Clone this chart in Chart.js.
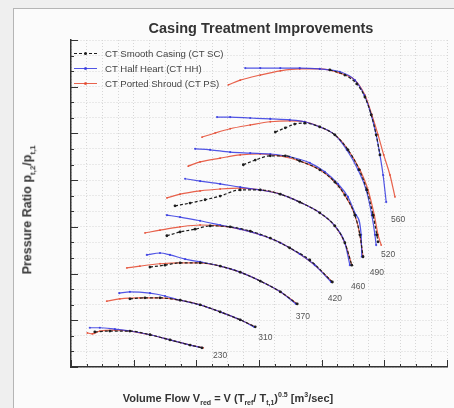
<!DOCTYPE html>
<html>
<head>
<meta charset="utf-8">
<script src="https://cdn.jsdelivr.net/npm/chart.js@4.4.1/dist/chart.umd.min.js"></script>
<style>
  body { margin: 0; background: #efefef; font-family: "Liberation Sans", Arial, sans-serif; }
  #wrap { position: relative; width: 454px; height: 408px; overflow: hidden; }
  #frame { position: absolute; left: 13px; top: 8px; width: 450px; height: 410px; border: 1px solid #b5b5b5; background: #fbfbfb; }
  #chart { position: absolute; left: 0; top: 0; }
  .txt { position: absolute; color: #333; font-weight: bold; text-align: center; white-space: nowrap; }
  .txt sub, .txt sup { font-size: 7px; }
  #title { left: 61px; width: 400px; top: 19px; font-size: 14.5px; line-height: 18px; }
  #xtitle { left: 28px; width: 400px; top: 387px; font-size: 11px; line-height: 16px; }
  #ytitle { left: -135px; width: 330px; top: 200px; font-size: 12.5px; line-height: 14px; transform: rotate(-90deg); }
  #ytitle sub { font-size: 8px; }
  #legend { position: absolute; left: 74px; top: 46px; font-size: 9.6px; color: #444; }
  #legend div { height: 15px; line-height: 15px; display: flex; align-items: center; }
  #legend .smp { position: relative; width: 23px; height: 0; margin-right: 8px; border-top: 1px solid; }
  #legend .smp i { position: absolute; left: 10px; top: -2px; width: 3px; height: 3px; border-radius: 50%; }
</style>
</head>
<body>
<div id="wrap">
  <div id="frame"></div>
  <canvas id="chart" width="454" height="408"></canvas>
  <div id="title" class="txt">Casing Treatment Improvements</div>
  <div id="ytitle" class="txt">Pressure Ratio p<sub>t,2</sub>/p<sub>t,1</sub></div>
  <div id="xtitle" class="txt">Volume Flow V<sub>red</sub> = V (T<sub>ref</sub>/ T<sub>t,1</sub>)<sup>0.5</sup> [m<sup>3</sup>/sec]</div>
  <div id="legend"></div>
</div>
<script>
// speed lines, low to high
const speedLabels = ["230", "310", "370", "420", "460", "490", "520", "560"];
const labelX = [2.38, 3.10, 3.70, 4.21, 4.58, 4.88, 5.06, 5.22];
const labelY = [0.24, 0.62, 1.07, 1.46, 1.73, 2.01, 2.40, 3.15];

// [flow, pressure ratio] per speed line (axis units, labels hidden in the original)
const smoothCasing = [
    [[0.38, 0.75], [0.62, 0.77], [0.94, 0.77], [1.26, 0.69], [1.58, 0.58], [1.90, 0.47], [2.09, 0.41]],
    [[0.94, 1.46], [1.18, 1.48], [1.42, 1.48], [1.74, 1.43], [2.06, 1.33], [2.38, 1.18], [2.70, 1.01], [2.94, 0.86]],
    [[1.26, 2.14], [1.50, 2.18], [1.74, 2.23], [2.06, 2.23], [2.38, 2.16], [2.70, 2.03], [3.02, 1.84], [3.34, 1.61], [3.61, 1.35]],
    [[1.53, 2.81], [1.74, 2.89], [1.98, 2.95], [2.22, 3.02], [2.54, 3.00], [2.86, 2.91], [3.18, 2.76], [3.49, 2.55], [3.81, 2.29], [4.17, 1.82]],
    [[1.66, 3.45], [1.90, 3.51], [2.14, 3.58], [2.38, 3.66], [2.70, 3.79], [3.02, 3.79], [3.34, 3.70], [3.65, 3.53], [3.97, 3.30], [4.21, 3.02], [4.37, 2.66], [4.48, 2.18]],
    [[2.75, 4.33], [2.94, 4.43], [3.18, 4.52], [3.42, 4.52], [3.65, 4.41], [3.97, 4.22], [4.21, 3.96], [4.37, 3.68], [4.53, 3.25], [4.61, 2.83], [4.66, 2.36]],
    [[3.26, 5.03], [3.42, 5.12], [3.57, 5.20], [3.73, 5.22], [3.97, 5.14], [4.21, 4.97], [4.42, 4.65], [4.60, 4.22], [4.72, 3.79], [4.82, 3.25], [4.88, 2.83], [4.90, 2.68]],
    [[4.13, 6.36], [4.37, 6.25], [4.56, 6.06], [4.69, 5.78], [4.79, 5.40], [4.87, 4.97], [4.93, 4.54]]
];

const halfHeart = [
    [[0.30, 0.84], [0.46, 0.84], [0.70, 0.81], [0.94, 0.77], [1.26, 0.69], [1.58, 0.58], [1.90, 0.47], [2.09, 0.41]],
    [[0.77, 1.58], [0.94, 1.61], [1.26, 1.58], [1.50, 1.52], [1.74, 1.43], [2.06, 1.33], [2.38, 1.18], [2.70, 1.01], [2.92, 0.86]],
    [[1.21, 2.40], [1.42, 2.44], [1.58, 2.40], [1.82, 2.31], [2.06, 2.25], [2.38, 2.16], [2.70, 2.03], [3.02, 1.84], [3.34, 1.61], [3.59, 1.35]],
    [[1.53, 3.25], [1.74, 3.21], [2.06, 3.13], [2.38, 3.04], [2.70, 2.95], [3.02, 2.83], [3.34, 2.66], [3.65, 2.42], [3.89, 2.18], [4.15, 1.82]],
    [[1.82, 4.03], [2.06, 3.98], [2.38, 3.92], [2.70, 3.85], [3.02, 3.79], [3.34, 3.70], [3.65, 3.53], [3.97, 3.30], [4.21, 3.02], [4.37, 2.66], [4.45, 2.18]],
    [[1.98, 4.67], [2.22, 4.65], [2.54, 4.60], [2.86, 4.58], [3.18, 4.56], [3.49, 4.50], [3.81, 4.37], [4.05, 4.18], [4.26, 3.92], [4.42, 3.64], [4.55, 3.25], [4.63, 2.83], [4.64, 2.36]],
    [[2.33, 5.35], [2.54, 5.35], [2.86, 5.33], [3.18, 5.31], [3.49, 5.29], [3.73, 5.25], [3.97, 5.14], [4.21, 4.97], [4.40, 4.65], [4.58, 4.22], [4.71, 3.79], [4.80, 3.25], [4.85, 2.83], [4.87, 2.61]],
    [[2.78, 6.40], [3.02, 6.40], [3.34, 6.40], [3.65, 6.40], [3.97, 6.38], [4.29, 6.32], [4.53, 6.14], [4.68, 5.82], [4.79, 5.40], [4.87, 4.97], [4.93, 4.54], [4.98, 4.11], [5.03, 3.53]]
];

const portedShroud = [
    [[0.26, 0.73], [0.34, 0.71], [0.46, 0.77], [0.70, 0.79], [0.94, 0.77], [1.26, 0.69], [1.58, 0.58], [1.90, 0.47], [2.11, 0.41]],
    [[0.57, 1.41], [0.78, 1.46], [1.10, 1.48], [1.42, 1.48], [1.74, 1.43], [2.06, 1.33], [2.38, 1.18], [2.70, 1.01], [2.94, 0.86]],
    [[0.89, 2.12], [1.10, 2.16], [1.42, 2.21], [1.74, 2.23], [2.06, 2.23], [2.38, 2.16], [2.70, 2.03], [3.02, 1.84], [3.34, 1.61], [3.61, 1.35]],
    [[1.18, 2.87], [1.42, 2.93], [1.74, 3.00], [2.06, 3.04], [2.38, 3.02], [2.70, 2.95], [3.02, 2.83], [3.34, 2.66], [3.65, 2.42], [3.89, 2.18], [4.17, 1.82]],
    [[1.53, 3.62], [1.74, 3.70], [2.06, 3.77], [2.38, 3.81], [2.70, 3.83], [3.02, 3.79], [3.34, 3.70], [3.65, 3.53], [3.97, 3.30], [4.21, 3.02], [4.37, 2.66], [4.48, 2.18]],
    [[1.87, 4.30], [2.06, 4.39], [2.38, 4.47], [2.70, 4.54], [3.02, 4.56], [3.34, 4.52], [3.65, 4.41], [3.97, 4.22], [4.21, 3.96], [4.37, 3.68], [4.53, 3.25], [4.61, 2.83], [4.66, 2.36]],
    [[2.09, 4.92], [2.30, 5.01], [2.54, 5.10], [2.86, 5.18], [3.18, 5.25], [3.49, 5.27], [3.73, 5.25], [3.97, 5.14], [4.21, 4.97], [4.42, 4.65], [4.61, 4.22], [4.74, 3.79], [4.84, 3.25], [4.90, 2.83], [4.95, 2.61]],
    [[2.51, 6.04], [2.70, 6.14], [3.02, 6.25], [3.34, 6.34], [3.65, 6.38], [3.97, 6.38], [4.29, 6.29], [4.53, 6.14], [4.69, 5.82], [4.80, 5.40], [4.90, 4.97], [4.99, 4.54], [5.09, 4.11], [5.17, 3.64]]
];

const seriesNames = ["CT Smooth Casing (CT SC)", "CT Half Heart (CT HH)", "CT Ported Shroud (CT PS)"];
const seriesData = [smoothCasing, halfHeart, portedShroud];
const seriesColors = ["#1e1e1e", "rgba(50, 55, 225, 0.85)", "rgba(228, 70, 45, 0.85)"];
const seriesDash = [[3, 2], [], []];
const seriesRadius = [1.4, 1.1, 0.9];

const X_MAX = 6, Y_MAX = 7;

// build one dataset per series per speed line
const datasets = [];
seriesData.forEach((curves, s) => {
    curves.forEach((pts, k) => {
        datasets.push({
            label: seriesNames[s] + " " + speedLabels[k],
            data: pts.map(p => ({ x: p[0], y: p[1] })),
            borderColor: seriesColors[s],
            backgroundColor: seriesColors[s],
            borderWidth: 1.2,
            borderDash: seriesDash[s],
            pointRadius: seriesRadius[s],
            pointBorderWidth: 0,
            cubicInterpolationMode: "monotone",
            fill: false
        });
    });
});

// legend (inside plot, top left)
const legend = document.getElementById("legend");
seriesNames.forEach((name, s) => {
    const row = document.createElement("div");
    const dashed = seriesDash[s].length ? "dashed" : "solid";
    row.innerHTML = `<span class="smp" style="border-top-style:${dashed};border-color:${seriesColors[s]}"><i style="background:${seriesColors[s]}"></i></span>${name}`;
    legend.appendChild(row);
});

// inward tick marks + speed line labels
const decorations = {
    id: "decorations",
    afterDraw(chart) {
        const { ctx, scales: { x, y } } = chart;
        ctx.save();
        ctx.strokeStyle = "#333";
        ctx.lineWidth = 1;
        ctx.beginPath();
        for (let i = 0; i <= X_MAX * 4; i++) {
            const px = Math.round(x.getPixelForValue(i / 4)) + 0.5;
            const len = i % 4 === 0 ? 7 : 3;
            ctx.moveTo(px, y.bottom);
            ctx.lineTo(px, y.bottom - len);
        }
        for (let i = 0; i <= Y_MAX * 3; i++) {
            const py = Math.round(y.getPixelForValue(i / 3)) + 0.5;
            const len = i % 3 === 0 ? 7 : 3;
            ctx.moveTo(x.left, py);
            ctx.lineTo(x.left + len, py);
        }
        ctx.stroke();

        ctx.fillStyle = "#555";
        ctx.font = '8.5px "Liberation Sans", Arial, sans-serif';
        ctx.textAlign = "center";
        ctx.textBaseline = "middle";
        speedLabels.forEach((lab, k) => {
            ctx.fillText(lab, x.getPixelForValue(labelX[k]), y.getPixelForValue(labelY[k]));
        });
        ctx.restore();
    }
};

const gridOpts = { color: "#d6d6d6", lineWidth: 1, drawTicks: false };
const borderOpts = { display: true, color: "#333", width: 1.5, dash: [1, 2] };

new Chart(document.getElementById("chart"), {
    type: "line",
    data: { datasets },
    options: {
        responsive: false,
        animation: false,
        layout: { padding: { left: 71, top: 40, right: 7, bottom: 41 } },
        plugins: { legend: { display: false }, tooltip: { enabled: false } },
        scales: {
            x: {
                type: "linear", min: 0, max: X_MAX,
                afterBuildTicks: axis => { axis.ticks = Array.from({ length: X_MAX * 4 + 1 }, (_, i) => ({ value: i / 4 })); },
                ticks: { display: false },
                grid: gridOpts,
                border: borderOpts
            },
            y: {
                type: "linear", min: 0, max: Y_MAX,
                afterBuildTicks: axis => { axis.ticks = Array.from({ length: Y_MAX * 3 + 1 }, (_, i) => ({ value: i / 3 })); },
                ticks: { display: false },
                grid: gridOpts,
                border: borderOpts
            }
        }
    },
    plugins: [decorations]
});
</script>
</body>
</html>
